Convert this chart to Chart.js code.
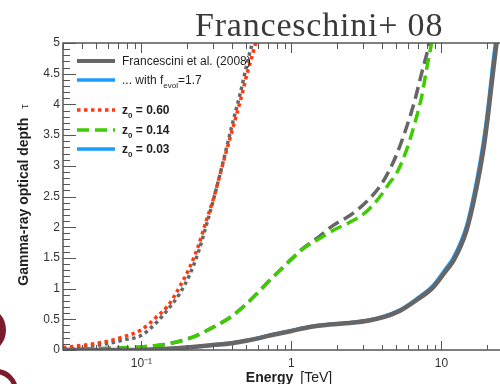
<!DOCTYPE html>
<html>
<head>
<meta charset="utf-8">
<script src="https://cdn.jsdelivr.net/npm/chart.js@4.4.1/dist/chart.umd.min.js"></script>
<style>
  html, body { margin: 0; padding: 0; overflow: hidden; background: #fff; }
  #wrap { position: relative; width: 500px; height: 384px; overflow: hidden; font-family: "Liberation Sans", Arial, sans-serif; }
  #chart { position: absolute; left: 0; top: 0; }
  .txt { position: absolute; white-space: nowrap; color: #1e1e1e; }
  .sub { font-size: 8px; position: relative; top: 4px; }
  .leg { left: 122px; font-size: 12px; line-height: 14px; }
  .legb { font-weight: bold; }
  .logo { position: absolute; border-radius: 50%; border: 6px solid #7a1c2c; }
</style>
</head>
<body>
<div id="wrap">
  <canvas id="chart" width="520" height="384"></canvas>
  <div class="logo" style="left:-42px; top:306px; width:36px; height:36px;"></div>
  <div class="logo" style="left:-26px; top:369px; width:34px; height:34px; border-width:5px;"></div>
  <div class="txt" style="left:195px; top:8px; font-family:'Liberation Serif', serif; font-size:34px; line-height:33px; letter-spacing:0.8px; color:#3a3a3a;">Franceschini+ 08</div>
  <div class="txt" style="left:23px; top:195px; transform:translate(-50%,-50%) rotate(-90deg); font-size:14px; line-height:16px;"><b>Gamma-ray optical depth</b><span style="font-size:11px; margin-left:9px;">τ</span></div>
  <div class="txt" style="left:289px; top:377px; transform:translate(-50%,-50%); font-size:14px; line-height:16px;"><b>Energy</b><span style="margin-left:7px;">[TeV]</span></div>
  <div class="txt leg" style="top:54px;">Francescini et al. (2008)</div>
  <div class="txt leg" style="top:73px;">... with f<span class="sub">evol</span>=1.7</div>
  <div class="txt leg legb" style="top:103px;">z<span class="sub">0</span> = 0.60</div>
  <div class="txt leg legb" style="top:123px;">z<span class="sub">0</span> = 0.14</div>
  <div class="txt leg legb" style="top:142px;">z<span class="sub">0</span> = 0.03</div>
</div>
<script>
// energies in TeV, optical depth tau
const E_Z060 = [0.03, 0.04, 0.055, 0.075, 0.1, 0.125, 0.15, 0.18, 0.21, 0.24, 0.27, 0.3, 0.35, 0.4, 0.46, 0.51, 0.57, 0.63];
const TAU_Z060_F08 = [0.02, 0.045, 0.09, 0.16, 0.24, 0.44, 0.66, 0.92, 1.23, 1.6, 2.02, 2.42, 3.06, 3.64, 4.22, 4.7, 5.15, 5.55];
const TAU_Z060_EVOL = [0.04, 0.075, 0.125, 0.21, 0.33, 0.53, 0.72, 1.03, 1.35, 1.7, 2.1, 2.44, 3.04, 3.55, 4.09, 4.53, 4.95, 5.4];

const E_Z014 = [0.03, 0.05, 0.075, 0.1, 0.15, 0.22, 0.3, 0.4, 0.5, 0.6, 0.72, 0.85, 1.0, 1.2, 1.5, 1.9, 2.45, 3.15, 3.9, 4.5, 5.0, 5.8, 6.6, 7.4, 8.0, 8.6, 9.3];
const TAU_Z014_F08 = [0.005, 0.02, 0.035, 0.05, 0.1, 0.21, 0.37, 0.55, 0.75, 0.94, 1.14, 1.31, 1.48, 1.66, 1.83, 2.03, 2.19, 2.41, 2.67, 2.93, 3.17, 3.6, 4.04, 4.52, 4.83, 5.12, 5.5];
const TAU_Z014_EVOL = [0.005, 0.02, 0.035, 0.05, 0.1, 0.21, 0.37, 0.55, 0.75, 0.94, 1.14, 1.31, 1.48, 1.65, 1.8, 1.95, 2.08, 2.25, 2.5, 2.72, 2.87, 3.23, 3.67, 4.14, 4.6, 5.0, 5.5];

const E_Z003 = [0.03, 0.08, 0.15, 0.22, 0.3, 0.4, 0.5, 0.6, 0.7, 1.0, 1.3, 1.8, 2.45, 3.3, 4.1, 5.3, 6.8, 8.8, 10.8, 12, 14.7, 17, 19, 20.5, 22, 23.3, 25];
const TAU_Z003_F08 = [0.0, 0.0, 0.02, 0.05, 0.08, 0.11, 0.15, 0.19, 0.23, 0.31, 0.37, 0.415, 0.44, 0.48, 0.535, 0.64, 0.81, 1.02, 1.3, 1.45, 1.95, 2.6, 3.25, 3.85, 4.5, 5.0, 5.6];
const TAU_Z003_EVOL = [0.0, 0.0, 0.02, 0.05, 0.08, 0.115, 0.155, 0.195, 0.235, 0.315, 0.375, 0.42, 0.445, 0.49, 0.545, 0.655, 0.83, 1.05, 1.34, 1.5, 2.02, 2.7, 3.37, 3.98, 4.65, 5.15, 5.75];

const X_TICKS = [0.1, 1, 10];
const X_TICK_LABELS = ['10⁻¹', '1', '10'];

const GRAY = '#666666';
const RED = '#ff3a10';
const GREEN = '#3ccc00';
const BLUE = '#1a9cff';
const DOTTED = [3.5, 3.5];
const DASHED = [12, 6];

function pts(es, taus) {
  return es.map((e, i) => ({ x: e, y: taus[i] }));
}

const legendRows = [
  { y: 61, color: GRAY, width: 4, dash: [] },
  { y: 80, color: BLUE, width: 3.5, dash: [] },
  { y: 110, color: RED, width: 3.5, dash: DOTTED },
  { y: 130, color: GREEN, width: 3.5, dash: DASHED },
  { y: 149, color: BLUE, width: 3.5, dash: [] },
];

const frame = {
  id: 'frame',
  beforeDatasetsDraw(chart) {
    const ctx = chart.ctx;
    ctx.save();
    for (const r of legendRows) {
      ctx.beginPath();
      ctx.strokeStyle = r.color;
      ctx.lineWidth = r.width;
      ctx.setLineDash(r.dash);
      ctx.moveTo(77, r.y);
      ctx.lineTo(115, r.y);
      ctx.stroke();
    }
    ctx.restore();
  },
  afterDraw(chart) {
    const { ctx, chartArea: a, scales: { x, y } } = chart;
    ctx.save();
    ctx.strokeStyle = '#555';
    ctx.lineWidth = 1;
    ctx.beginPath();
    for (let i = 0; i <= 50; i++) {
      const py = Math.round(y.getPixelForValue(i / 10)) + 0.5;
      const len = i % 5 === 0 ? 13 : 7;
      ctx.moveTo(a.left, py); ctx.lineTo(a.left + len, py);
      ctx.moveTo(a.right, py); ctx.lineTo(a.right - len, py);
    }
    for (const d of [0.01, 0.1, 1, 10]) {
      for (let m = 1; m <= 9; m++) {
        const v = d * m;
        if (v < x.min * 0.999 || v > x.max * 1.001) continue;
        const px = Math.round(x.getPixelForValue(v)) + 0.5;
        const major = m === 1;
        ctx.moveTo(px, a.bottom); ctx.lineTo(px, a.bottom - (major ? 9 : 5));
        ctx.moveTo(px, a.top); ctx.lineTo(px, a.top + (major ? 10 : 6));
      }
    }
    ctx.stroke();
    ctx.lineWidth = 1.5;
    ctx.strokeRect(a.left, a.top, a.right - a.left, a.bottom - a.top);
    ctx.restore();
  }
};

new Chart(document.getElementById('chart'), {
  type: 'line',
  data: {
    datasets: [
      { label: 'F08 z=0.03', data: pts(E_Z003, TAU_Z003_F08), borderColor: GRAY, borderWidth: 4.5, order: 1 },
      { label: 'evol z=0.03', data: pts(E_Z003, TAU_Z003_EVOL), borderColor: BLUE, borderWidth: 3.5, order: 2 },
      { label: 'evol z=0.14', data: pts(E_Z014, TAU_Z014_EVOL), borderColor: GREEN, borderWidth: 3.5, borderDash: DASHED, order: 3 },
      { label: 'F08 z=0.14', data: pts(E_Z014, TAU_Z014_F08), borderColor: GRAY, borderWidth: 3.5, borderDash: DASHED, order: 4 },
      { label: 'evol z=0.60', data: pts(E_Z060, TAU_Z060_EVOL), borderColor: RED, borderWidth: 3.5, borderDash: DOTTED, order: 5 },
      { label: 'F08 z=0.60', data: pts(E_Z060, TAU_Z060_F08), borderColor: GRAY, borderWidth: 3.5, borderDash: DOTTED, order: 6 },
    ]
  },
  options: {
    responsive: false,
    animation: false,
    layout: { padding: { top: 43, right: 7, left: 0, bottom: 0 } },
    plugins: { legend: { display: false }, tooltip: { enabled: false } },
    elements: {
      point: { radius: 0 },
      line: { cubicInterpolationMode: 'monotone', fill: false, borderCapStyle: 'butt' }
    },
    scales: {
      x: {
        type: 'logarithmic',
        min: 0.03,
        max: 30,
        afterFit: (s) => { s.height = 34; },
        afterBuildTicks: (s) => { s.ticks = X_TICKS.map((v) => ({ value: v })); },
        ticks: {
          autoSkip: false,
          maxRotation: 0,
          padding: 6,
          color: '#333',
          font: { family: 'Liberation Sans', size: 12 },
          callback: (v) => X_TICK_LABELS[X_TICKS.indexOf(v)] ?? ''
        },
        grid: { display: false, drawTicks: false },
        border: { display: false }
      },
      y: {
        min: 0,
        max: 5,
        afterFit: (s) => { s.width = 63; },
        ticks: {
          stepSize: 0.5,
          padding: 3,
          color: '#333',
          font: { family: 'Liberation Sans', size: 12 },
          callback: (v) => String(+v.toFixed(1))
        },
        grid: { display: false, drawTicks: false },
        border: { display: false }
      }
    }
  },
  plugins: [frame]
});
</script>
</body>
</html>
